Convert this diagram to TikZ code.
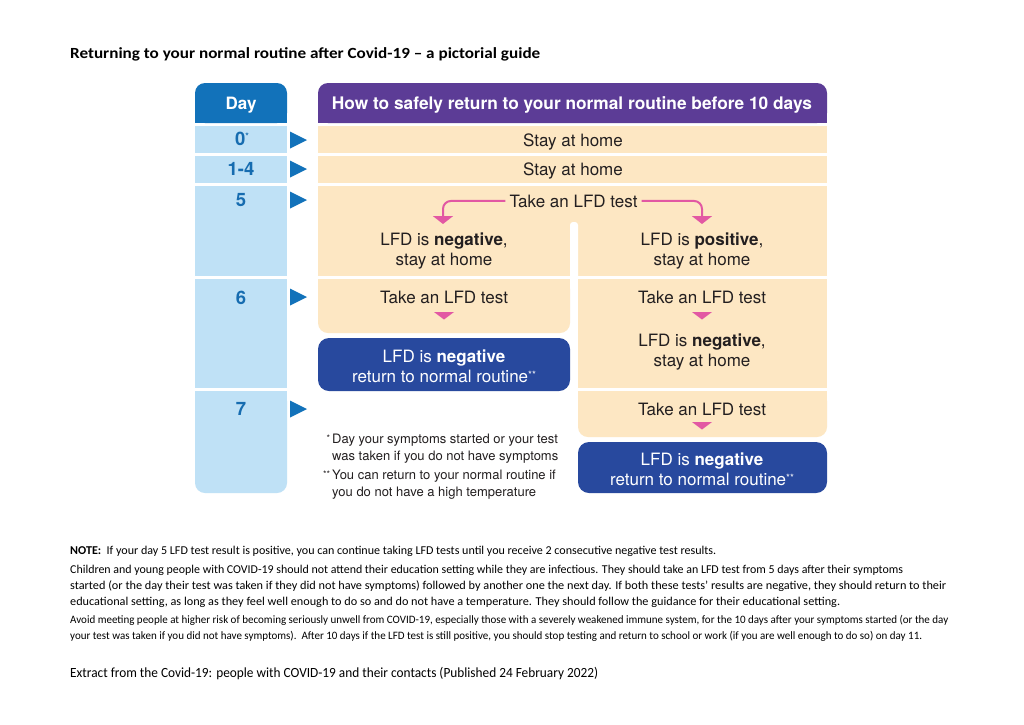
\documentclass[tikz,border=0pt]{standalone}
\usepackage{fontspec}
\usepackage{graphicx}
\setmainfont{TeX Gyre Heros}
\newfontfamily\calfont{Carlito}
\usetikzlibrary{arrows.meta}
\definecolor{dayblue}{RGB}{18,114,186}
\definecolor{lightblue}{RGB}{191,225,246}
\definecolor{hdpurple}{RGB}{92,60,150}
\definecolor{tanbg}{RGB}{253,231,195}
\definecolor{boxblue}{RGB}{40,73,158}
\definecolor{arrpink}{RGB}{226,88,163}
\definecolor{txtc}{RGB}{35,31,32}
\definecolor{numblue}{RGB}{22,108,176}
\newcommand\fitw[2]{\resizebox{#1}{\height}{#2}}
\newcommand\astsup[1]{\raisebox{4pt}{\fontsize{10}{10}\selectfont #1}}
\tikzset{
  every node/.style={inner sep=0pt},
  ftext/.style={font=\fontsize{17}{20}\selectfont, text=txtc, align=center, anchor=base},
  wtext/.style={font=\fontsize{17}{20}\selectfont, text=white, align=center, anchor=base},
  numtxt/.style={font=\fontsize{18.5}{20}\selectfont\bfseries, text=numblue, anchor=base},
  fntxt/.style={font=\fontsize{13}{17}\selectfont, text=txtc, align=left, anchor=base west},
  bodytxt/.style={font=\calfont\fontsize{12}{14}\selectfont, text=black, anchor=base west},
  pinkarrow/.style={draw=arrpink, line width=2pt, rounded corners=8pt, -{Triangle[width=20pt,length=8pt]}},
  daytri/.style={fill=dayblue},
  pinktri/.style={fill=arrpink},
}
\begin{document}
\begin{tikzpicture}[x=1pt,y=-1pt]
\useasboundingbox (0,0) rectangle (1024,724);
\fill[white] (0,0) rectangle (1024,724);

% headers
\fill[dayblue, rounded corners=10pt] (195,83) rectangle (287,123);
\fill[dayblue] (195,105) rectangle (287,123);
\fill[hdpurple, rounded corners=10pt] (318,83) rectangle (827,123);
\fill[hdpurple] (318,105) rectangle (827,123);

% day cells
\fill[lightblue] (195,126) rectangle (287,153);
\fill[lightblue] (195,156) rectangle (287,183);
\fill[lightblue] (195,186) rectangle (287,276);
\fill[lightblue] (195,279) rectangle (287,388);
\fill[lightblue, rounded corners=10pt] (195,391) rectangle (287,493);
\fill[lightblue] (195,391) rectangle (287,470);

% tan rows
\fill[tanbg] (318,126) rectangle (827,153);
\fill[tanbg] (318,156) rectangle (827,183);
\fill[tanbg] (318,186) rectangle (827,276);
\fill[white, rounded corners=3pt] (570,222) rectangle (578,282);
\fill[tanbg, rounded corners=10pt] (318,279) rectangle (570,333);
\fill[tanbg] (318,279) rectangle (570,300);
\fill[boxblue, rounded corners=11pt] (318,338) rectangle (570,391);
\fill[tanbg] (578,279) rectangle (827,388);
\fill[tanbg, rounded corners=10pt] (578,391) rectangle (827,437);
\fill[tanbg] (578,391) rectangle (827,410);
\fill[boxblue, rounded corners=11pt] (578,442) rectangle (827,493);

% day arrows
\foreach \yy in {140,169,200,297,409}
  \fill[daytri] (290,\yy-8.5) -- (307,\yy) -- (290,\yy+8.5) -- cycle;

% header texts
\node[font=\fontsize{17}{20}\selectfont\bfseries, text=white, anchor=base] (dayh) at (241,109) {Day};
\node[font=\fontsize{17.3}{20}\selectfont\bfseries, text=white, anchor=base] (hdr) at (572,109) {How to safely return to your normal routine before 10 days};

% day numbers
\node[numtxt] (d0) at (242,145) {0\raisebox{6pt}{\fontsize{9}{9}\selectfont *}};
\node[numtxt] (d14) at (241,175) {1-4};
\node[numtxt] (d5) at (241,206) {5};
\node[numtxt] (d6) at (241,304) {6};
\node[numtxt] (d7) at (241,415) {7};

% steps (multi-line nodes: anchor base = last line baseline)
\node[ftext] (s0) at (573,146) {Stay at home};
\node[ftext] (s14) at (573,175) {Stay at home};
\node[ftext, inner xsep=4pt] (t5) at (573.5,207) {Take an LFD test};
\node[ftext] (neg5) at (444,265) {LFD is \textbf{negative},\\stay at home};
\node[ftext] (pos5) at (702,265) {LFD is \textbf{positive},\\stay at home};
\coordinate (a5l) at (443,224);
\coordinate (a5r) at (702,224);
\draw[pinkarrow] (t5.west) -| (a5l);
\draw[pinkarrow] (t5.east) -| (a5r);

\node[ftext] (t6l) at (444,303) {Take an LFD test};
\fill[pinktri] (434,312) -- (454,312) -- (444,319.5) -- cycle;
\node[wtext] (ret6) at (444,382) {LFD is \textbf{negative}\\return to normal routine\astsup{**}};

\node[ftext] (t6r) at (702,303) {Take an LFD test};
\fill[pinktri] (692,312) -- (712,312) -- (702,319.5) -- cycle;
\node[ftext] (neg6r) at (702,366) {LFD is \textbf{negative},\\stay at home};

\node[ftext] (t7) at (702,415) {Take an LFD test};
\fill[pinktri] (692,422) -- (712,422) -- (702,429.5) -- cycle;
\node[wtext] (ret7) at (702,485) {LFD is \textbf{negative}\\return to normal routine\astsup{**}};

% footnotes
\node[fntxt] (fn1) at (332,460) {\llap{\raisebox{2pt}{\fontsize{9}{9}\selectfont *}\,}Day your symptoms started or your test\\was taken if you do not have symptoms};
\node[fntxt] (fn2) at (332,496) {\llap{\raisebox{2pt}{\fontsize{9}{9}\selectfont **}\,}You can return to your normal routine if\\you do not have a high temperature};

% page texts
\node[font=\calfont\bfseries\fontsize{15.5}{17}\selectfont, text=black, anchor=base west] (title) at (70,58) {\fitw{470pt}{Returning to your normal routine after Covid-19 – a pictorial guide}};
\node[bodytxt] (note) at (70,554) {\fitw{646pt}{\textbf{NOTE:}\ \ If your day 5 LFD test result is positive, you can continue taking LFD tests until you receive 2 consecutive negative test results.}};
\node[bodytxt] (p1) at (70,573) {\fitw{833pt}{Children and young people with COVID-19 should not attend their education setting while they are infectious. They should take an LFD test from 5 days after their symptoms}};
\node[bodytxt] (p2) at (70,589) {\fitw{876pt}{started (or the day their test was taken if they did not have symptoms) followed by another one the next day. If both these tests’ results are negative, they should return to their}};
\node[bodytxt] (p3) at (70,605) {\fitw{770pt}{educational setting, as long as they feel well enough to do so and do not have a temperature. They should follow the guidance for their educational setting.}};
\node[bodytxt, font=\calfont\fontsize{11.3}{13}\selectfont] (p4) at (70,623) {\fitw{878pt}{Avoid meeting people at higher risk of becoming seriously unwell from COVID-19, especially those with a severely weakened immune system, for the 10 days after your symptoms started (or the day}};
\node[bodytxt, font=\calfont\fontsize{11.3}{13}\selectfont] (p5) at (70,639) {\fitw{852pt}{your test was taken if you did not have symptoms).\ \ After 10 days if the LFD test is still positive, you should stop testing and return to school or work (if you are well enough to do so) on day 11.}};
\node[font=\calfont\fontsize{14}{16}\selectfont, text=black, anchor=base west] (extract) at (70,677) {\fitw{528pt}{Extract from the Covid-19: people with COVID-19 and their contacts (Published 24 February 2022)}};
\end{tikzpicture}
\end{document}
